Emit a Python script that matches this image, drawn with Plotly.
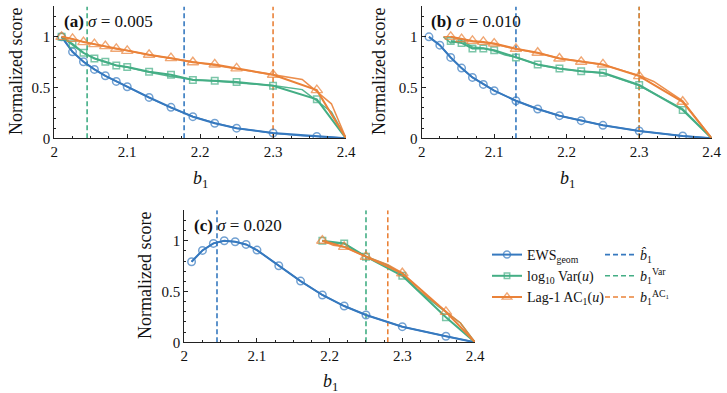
import plotly.graph_objects as go

# ---------------- data ----------------
x_grid = [2.01, 2.025, 2.04, 2.055, 2.07, 2.085, 2.1, 2.13, 2.16, 2.19, 2.22, 2.25, 2.3, 2.36, 2.4]

# panel (a) sigma = 0.005
ews_a = [1.0, 0.852, 0.754, 0.679, 0.616, 0.561, 0.508, 0.403, 0.305, 0.213, 0.148, 0.10, 0.052, 0.018, 0.0]
var_a = [1.0, 0.928, 0.843, 0.787, 0.754, 0.718, 0.702, 0.656, 0.626, 0.574, 0.567, 0.554, 0.518, 0.384, 0.0]
ac_a = [1.0, 0.98, 0.948, 0.928, 0.908, 0.882, 0.862, 0.823, 0.79, 0.75, 0.728, 0.689, 0.626, 0.475, 0.0]
xt_a = [2.01, 2.025, 2.04, 2.055, 2.07, 2.085, 2.1, 2.13, 2.16, 2.19, 2.22, 2.25, 2.3, 2.34, 2.38, 2.4]
ews_a_t = [1.0, 0.85, 0.755, 0.68, 0.615, 0.56, 0.51, 0.40, 0.30, 0.215, 0.15, 0.10, 0.05, 0.025, 0.01, 0.0]
var_a_t = [1.0, 0.92, 0.84, 0.79, 0.75, 0.72, 0.70, 0.65, 0.61, 0.58, 0.565, 0.55, 0.52, 0.48, 0.26, 0.0]
ac_a_t = [1.0, 0.975, 0.95, 0.925, 0.905, 0.88, 0.865, 0.82, 0.79, 0.755, 0.725, 0.69, 0.63, 0.58, 0.34, 0.0]

# panel (b) sigma = 0.010
ews_b = [1.0, 0.918, 0.797, 0.692, 0.60, 0.531, 0.469, 0.37, 0.289, 0.223, 0.174, 0.128, 0.072, 0.023, 0.0]
x_b2 = [2.04, 2.055, 2.07, 2.085, 2.1, 2.13, 2.16, 2.19, 2.22, 2.25, 2.3, 2.36, 2.4]
var_b = [0.96, 0.94, 0.885, 0.885, 0.869, 0.797, 0.728, 0.689, 0.662, 0.646, 0.525, 0.279, 0.0]
ac_b = [1.0, 0.977, 0.96, 0.95, 0.934, 0.882, 0.843, 0.787, 0.754, 0.728, 0.613, 0.36, 0.0]
xt_b_var = [2.03, 2.04, 2.055, 2.07, 2.085, 2.1, 2.115, 2.13, 2.16, 2.19, 2.22, 2.25, 2.3, 2.36, 2.4]
var_b_t = [1.0, 0.94, 0.96, 0.90, 0.89, 0.86, 0.82, 0.80, 0.725, 0.685, 0.66, 0.64, 0.52, 0.29, 0.0]
xt_b_ac = [2.03, 2.04, 2.055, 2.07, 2.085, 2.1, 2.13, 2.16, 2.19, 2.22, 2.25, 2.3, 2.32, 2.36, 2.4]
ac_b_t = [1.0, 1.0, 0.975, 0.955, 0.945, 0.93, 0.88, 0.84, 0.79, 0.755, 0.725, 0.62, 0.56, 0.37, 0.0]

# panel (c) sigma = 0.020
ews_c = [0.793, 0.905, 0.974, 1.0, 0.99, 0.964, 0.908, 0.754, 0.603, 0.466, 0.357, 0.269, 0.154, 0.06, 0.0]
x_c2 = [2.19, 2.22, 2.25, 2.3, 2.36, 2.4]
var_c = [1.0, 0.974, 0.843, 0.655, 0.246, 0.0]
ac_c = [1.0, 0.94, 0.843, 0.68, 0.30, 0.0]
xt_c = [2.19, 2.205, 2.22, 2.235, 2.25, 2.28, 2.3, 2.32, 2.35, 2.38, 2.4]
var_c_t = [1.0, 0.97, 0.975, 0.90, 0.845, 0.76, 0.67, 0.52, 0.35, 0.19, 0.0]
ac_c_t = [1.0, 0.955, 0.94, 0.89, 0.845, 0.765, 0.685, 0.53, 0.36, 0.19, 0.0]

# thresholds (dashed lines): [b_hat, b_Var, b_AC1]
thr_a = [2.178, 2.045, 2.3]
thr_b = [2.13, 2.3, 2.3]
thr_c = [2.045, 2.25, 2.28]

panel_labels = ["<b>(a)</b> <i>σ</i> = 0.005", "<b>(b)</b> <i>σ</i> = 0.010", "<b>(c)</b> <i>σ</i> = 0.020"]
x_ticks = [2, 2.1, 2.2, 2.3, 2.4]
x_tick_text = ["2", "2.1", "2.2", "2.3", "2.4"]
y_ticks = [0, 0.5, 1]
y_tick_text = ["0", "0.5", "1"]

names = ["EWS<sub>geom</sub>", "log<sub>10</sub> Var(<i>u</i>)", "Lag-1 AC<sub>1</sub>(<i>u</i>)"]
thr_names = ["<i>b̂</i><sub>1</sub>", "<i>b</i><sub>1</sub><sup>Var</sup>", "<i>b</i><sub>1</sub><sup>AC<sub>1</sub></sup>"]

# ---------------- style ----------------
BLUE = "#3679bf"
GREEN = "#44ae85"
ORANGE = "#ea8239"
colors = [BLUE, GREEN, ORANGE]
symbols = ["circle-open", "square-open", "triangle-up-open"]
msizes = [7.5, 6.5, 10]
mlw = [1.5, 1.5, 1.4]
FONT = "Liberation Serif, DejaVu Serif, serif"
W, H = 727, 393

fig = go.Figure()

panels = [
    dict(xa="x", ya="y",
         main=[(x_grid, ews_a), (x_grid, var_a), (x_grid, ac_a)],
         thin=[(xt_a, ews_a_t), (xt_a, var_a_t), (xt_a, ac_a_t)],
         thr=thr_a),
    dict(xa="x2", ya="y2",
         main=[(x_grid, ews_b), (x_b2, var_b), (x_b2, ac_b)],
         thin=[(x_grid, ews_b), (xt_b_var, var_b_t), (xt_b_ac, ac_b_t)],
         thr=thr_b),
    dict(xa="x3", ya="y3",
         main=[(x_grid, ews_c), (x_c2, var_c), (x_c2, ac_c)],
         thin=[(x_grid, ews_c), (xt_c, var_c_t), (xt_c, ac_c_t)],
         thr=thr_c),
]

for pi, p in enumerate(panels):
    # dashed threshold lines
    for k in range(3):
        fig.add_trace(go.Scatter(
            x=[p["thr"][k], p["thr"][k]], y=[0, 1.3], xaxis=p["xa"], yaxis=p["ya"],
            mode="lines", line=dict(color=colors[k], width=1.6, dash="5px,3px"),
            name=thr_names[k], legend="legend2", showlegend=(pi == 2), hoverinfo="skip"))
    # thin companion curves
    for k in range(3):
        xs, ys = p["thin"][k]
        fig.add_trace(go.Scatter(
            x=xs, y=ys, xaxis=p["xa"], yaxis=p["ya"], mode="lines",
            line=dict(color=colors[k], width=1.5), opacity=0.9,
            showlegend=False, hoverinfo="skip"))
    # main curves with markers (no marker at the end point)
    for k in range(3):
        xs, ys = p["main"][k]
        sizes = [msizes[k]] * (len(xs) - 1) + [0]
        fig.add_trace(go.Scatter(
            x=xs, y=ys, xaxis=p["xa"], yaxis=p["ya"], mode="lines+markers",
            line=dict(color=colors[k], width=2),
            marker=dict(symbol=symbols[k], size=sizes, color=colors[k],
                        line=dict(width=mlw[k], color=colors[k])),
            name=names[k], legend="legend", showlegend=(pi == 2)))

# ---------------- axes layout ----------------
def dom_x(l, r):
    return [l / W, r / W]

def dom_y(bottom_px, top_px):
    return [1 - bottom_px / H, 1 - top_px / H]

axis_common = dict(
    showline=True, linecolor="#222", linewidth=1.2, mirror=False, automargin=False,
    showgrid=False, zeroline=False, ticks="inside", ticklen=4, tickwidth=1,
    tickcolor="#222", tickfont=dict(family=FONT, size=15, color="#111"),
)

x_range = [2, 2.4]
y_range = [0, 1.3]

xdoms = [dom_x(54.3, 346), dom_x(421.7, 711.7), dom_x(184.3, 475)]
ydoms = [dom_y(138.3, 6.4), dom_y(138.3, 6.4), dom_y(342.3, 210.3)]

legend_font = dict(family=FONT, size=14, color="#111")
layout = dict(
    template="none",
    width=W, height=H, autosize=False,
    margin=dict(l=0, r=0, t=0, b=0, pad=0, autoexpand=False),
    paper_bgcolor="white", plot_bgcolor="white",
    font=dict(family=FONT, size=15, color="#111"),
    showlegend=True,
    legend=dict(x=487 / W, y=1 - 239 / H, xanchor="left", yanchor="top",
                bgcolor="rgba(0,0,0,0)", font=legend_font, tracegroupgap=0, itemwidth=30),
    legend2=dict(x=600 / W, y=1 - 239 / H, xanchor="left", yanchor="top",
                 bgcolor="rgba(0,0,0,0)", font=legend_font, tracegroupgap=0, itemwidth=30),
)

for i in range(3):
    sx = "" if i == 0 else str(i + 1)
    layout["xaxis" + sx] = dict(axis_common, domain=xdoms[i], range=x_range,
                                anchor="y" + sx, tickvals=x_ticks, ticktext=x_tick_text,
                                minor=dict(ticks="inside", ticklen=2, dtick=0.025, tick0=2, tickcolor="#222"))
    layout["yaxis" + sx] = dict(axis_common, domain=ydoms[i], range=y_range,
                                anchor="x" + sx, tickvals=y_ticks, ticktext=y_tick_text,
                                minor=dict(ticks="inside", ticklen=2, dtick=0.1, tick0=0, tickcolor="#222"))

fig.update_layout(**layout)

# ---------------- annotations (titles) ----------------
ylab_x = [16, 379, 145]
ylab_y = [72, 72, 276]
xlab_x = [200, 567, 330]
xlab_y = [179, 179, 382]
for i in range(3):
    sx = "" if i == 0 else str(i + 1)
    fig.add_annotation(x=ylab_x[i] / W, y=1 - ylab_y[i] / H, xref="paper", yref="paper",
                       xanchor="center", yanchor="middle",
                       text="Normalized score", textangle=-90, showarrow=False,
                       font=dict(family=FONT, size=18, color="#111"))
    fig.add_annotation(x=xlab_x[i] / W, y=1 - xlab_y[i] / H, xref="paper", yref="paper",
                       xanchor="center", yanchor="middle",
                       text="<i>b</i><sub>1</sub>", showarrow=False,
                       font=dict(family=FONT, size=18, color="#111"))
    fig.add_annotation(x=0.025, y=1.15, xref="x" + sx + " domain", yref="y" + sx,
                       text=panel_labels[i], showarrow=False, xanchor="left", yanchor="middle",
                       font=dict(family=FONT, size=17, color="#111"))

fig.write_html("out.html",
               post_script="document.body.style.margin='0';document.body.style.overflow='hidden';")
